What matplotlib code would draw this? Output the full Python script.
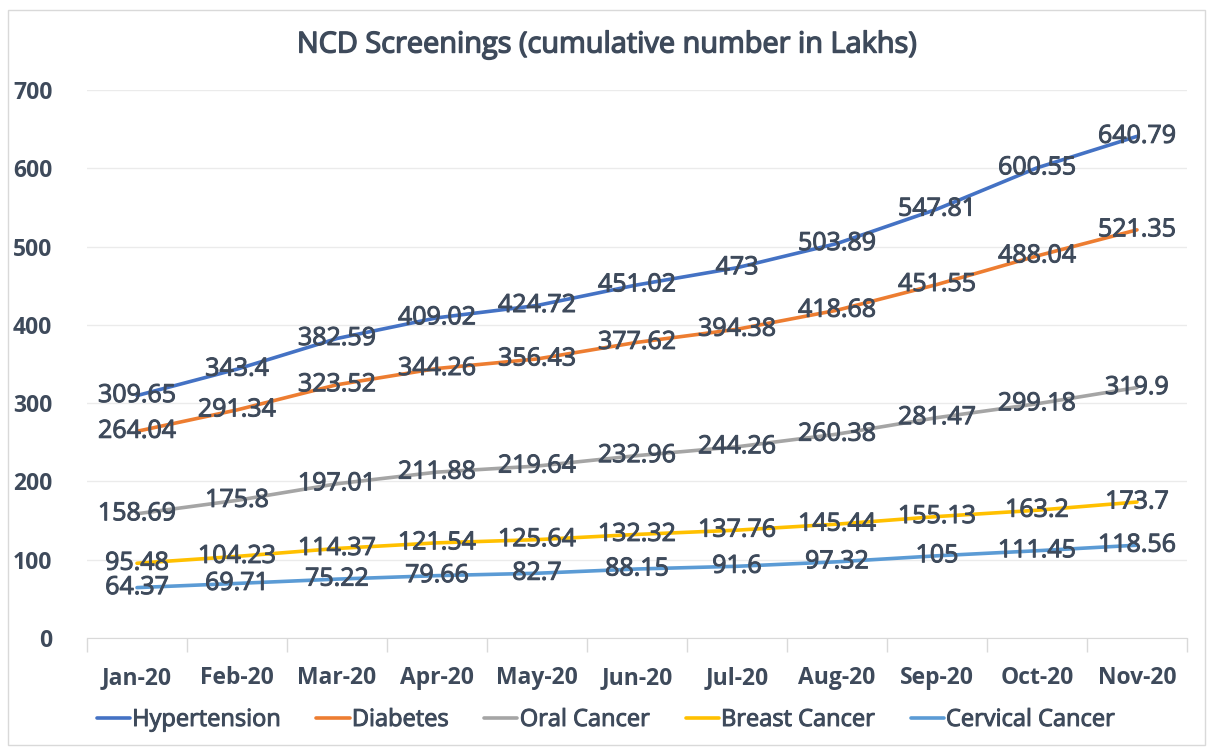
import matplotlib
matplotlib.use("Agg")
import matplotlib.pyplot as plt
import matplotlib.patheffects as pe
from matplotlib.patches import Rectangle

plt.rcParams['font.family'] = ['Open Sans', 'DejaVu Sans']

months = ["Jan-20", "Feb-20", "Mar-20", "Apr-20", "May-20", "Jun-20",
          "Jul-20", "Aug-20", "Sep-20", "Oct-20", "Nov-20"]

hypertension = [309.65, 343.4, 382.59, 409.02, 424.72, 451.02, 473, 503.89, 547.81, 600.55, 640.79]
diabetes = [264.04, 291.34, 323.52, 344.26, 356.43, 377.62, 394.38, 418.68, 451.55, 488.04, 521.35]
oral_cancer = [158.69, 175.8, 197.01, 211.88, 219.64, 232.96, 244.26, 260.38, 281.47, 299.18, 319.9]
breast_cancer = [95.48, 104.23, 114.37, 121.54, 125.64, 132.32, 137.76, 145.44, 155.13, 163.2, 173.7]
cervical_cancer = [64.37, 69.71, 75.22, 79.66, 82.7, 88.15, 91.6, 97.32, 105, 111.45, 118.56]

series_names = ["Hypertension", "Diabetes", "Oral Cancer", "Breast Cancer", "Cervical Cancer"]
series_values = [hypertension, diabetes, oral_cancer, breast_cancer, cervical_cancer]
colors = ["#4472C4", "#ED7D31", "#A5A5A5", "#FFC000", "#5B9BD5"]

text_color = "#3E4A5B"
# slightly heavier text, the original is a semibold face
heavy = [pe.withStroke(linewidth=0.7, foreground=text_color)]

fig = plt.figure(figsize=(12.08, 7.49), dpi=100)
fig.patches.append(Rectangle((8 / 1208, 4 / 749), 1197 / 1208, 735 / 749,
                             transform=fig.transFigure, fill=False,
                             edgecolor="#D9D9D9", linewidth=1))
ax = fig.add_axes([87 / 1208, 1 - 638 / 749, 1100 / 1208, 548 / 749])

x = list(range(len(months)))
for name, vals, c in zip(series_names, series_values, colors):
    ax.plot(x, vals, color=c, linewidth=2.6, label=name, solid_capstyle="round")
    for i, v in zip(x, vals):
        ax.text(i, v, f"{v:g}", ha="center", va="center", fontsize=18,
                color=text_color, path_effects=heavy)

ax.set_xlim(-0.5, len(months) - 0.5)
ax.set_ylim(0, 700)
ax.set_yticks(range(0, 701, 100))
ax.set_xticks(x)
ax.set_xticklabels(months)
ax.set_xticks([i - 0.5 for i in range(len(months) + 1)], minor=True)
ax.tick_params(axis="x", which="major", length=0, pad=20, labelsize=16.5,
               labelcolor=text_color)
ax.tick_params(axis="x", which="minor", length=10, color="#D9D9D9", width=1)
ax.tick_params(axis="y", length=0, pad=25, labelsize=16.5, labelcolor=text_color)
for lbl in ax.get_xticklabels() + ax.get_yticklabels():
    lbl.set_fontweight("bold")

ax.grid(axis="y", color="#EBEBEB", linewidth=1)
ax.set_axisbelow(True)
for s in ["top", "right", "left"]:
    ax.spines[s].set_visible(False)
ax.spines["bottom"].set_color("#D9D9D9")

fig.text(607 / 1208, 1 - 45 / 749, "NCD Screenings (cumulative number in Lakhs)",
         ha="center", va="center", fontsize=20.8, color=text_color,
         path_effects=[pe.withStroke(linewidth=1.0, foreground=text_color)])

leg = fig.legend(loc="center", bbox_to_anchor=(606 / 1208, 1 - 720 / 749), ncol=5,
                 frameon=False, handlelength=1.4, handletextpad=0.1,
                 columnspacing=1.5, prop={"size": 17})
for t in leg.get_texts():
    t.set_color(text_color)
    t.set_path_effects(heavy)

fig.savefig("out.png", dpi=100)
